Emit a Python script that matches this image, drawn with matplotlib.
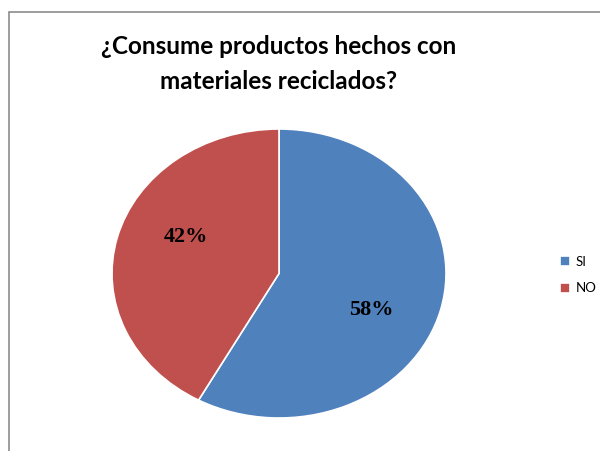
import numpy as np
import matplotlib.pyplot as plt
from matplotlib.patches import Rectangle

# data
labels = ['SI', 'NO']
values = [58, 42]
colors = ['#4F81BD', '#C0504D']
title = '¿Consume productos hechos con\nmateriales reciclados?'

fig = plt.figure(figsize=(6, 4.51), dpi=100)

# chart frame (left and top edges visible)
fig.patches.append(Rectangle((9 / 600, -0.1), 1.2, 1 - 12 / 451 + 0.1,
                             transform=fig.transFigure, fill=False,
                             edgecolor='#8c8c8c', linewidth=1.2))

# pie is stretched horizontally like the source image
ax = fig.add_axes([112 / 600, 33 / 451, 334 / 600, 289 / 451])
wedges, texts, autotexts = ax.pie(
    values, colors=colors, startangle=90, counterclock=False,
    autopct='%1.0f%%', pctdistance=0.6,
    wedgeprops=dict(edgecolor='white', linewidth=1.2))
ax.set_aspect('auto')
ax.set_xlim(-1, 1)
ax.set_ylim(-1, 1)

# Excel puts the labels a bit clockwise of the wedge middle
for w, t in zip(wedges, autotexts):
    ang = np.deg2rad((w.theta1 + w.theta2) / 2 - 10)
    t.set_position((0.61 * np.cos(ang), 0.61 * np.sin(ang)))
    t.set_fontfamily('Liberation Serif')
    t.set_fontweight('bold')
    t.set_fontsize(16)
    t.set_color('black')

fig.text(0.465, 1 - 64 / 451, title, ha='center', va='center',
         fontsize=17.5, fontweight='bold', family='Lato',
         linespacing=1.6, color='black')

ax.legend(wedges, labels, loc='center left', bbox_to_anchor=(553 / 600, 1 - 275 / 451),
          bbox_transform=fig.transFigure, frameon=False, borderpad=0,
          handlelength=0.8, handleheight=0.8, handletextpad=0.4,
          labelspacing=1.1, prop=dict(family='Lato', size=9.5))

fig.savefig('out.png', dpi=100)
